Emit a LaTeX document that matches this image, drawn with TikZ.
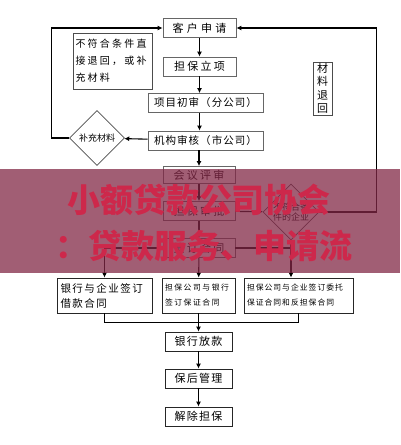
\documentclass[tikz,border=0pt]{standalone}
\usepackage{fontspec}
\setmainfont{Noto Sans CJK SC}
\usepackage{xcolor}
\usepackage{tikz}
\usetikzlibrary{shapes.geometric,arrows.meta}

\definecolor{bandred}{RGB}{130,40,70}
\definecolor{markred}{RGB}{205,40,75}
\newcommand{\spaced}[1]{\addfontfeature{LetterSpace=#1}}

\begin{document}
\begin{tikzpicture}[x=1pt, y=-1pt, >={Latex[length=5pt,width=5pt]},
    flow/.style={draw=black!60, line width=0.8pt, inner sep=0pt, minimum height=19pt, font=\fontsize{11}{13}\selectfont\spaced{20}},
    note/.style={draw=black!70, line width=0.7pt, inner sep=0pt, align=left, font=\fontsize{10}{17}\selectfont\spaced{22}},
    gate/.style={draw=black!70, line width=0.7pt, diamond, aspect=1, inner sep=0pt, minimum size=55pt, align=center, font=\fontsize{9}{10.5}\selectfont},
    deal/.style={draw=black!85, line width=0.8pt, inner sep=3pt, minimum height=35pt, align=left, font=\fontsize{7.8}{15}\selectfont\spaced{18}},
    stage/.style={draw=black!85, line width=0.8pt, inner sep=0pt, minimum width=67pt, minimum height=19pt, font=\fontsize{11}{13}\selectfont\spaced{12}},
    link/.style={line width=1.1pt},
    banner/.style={text=markred, font=\fontsize{33}{33}\selectfont\bfseries}]
    \useasboundingbox (0,0) rectangle (400,445);

    % Main flow, top part
    \node[flow, minimum width=73pt, font=\fontsize{11}{13}\selectfont\spaced{30}] (apply) at (199.5,28) {客户申请};
    \node[flow, minimum width=73pt] (setup) at (199.5,66.5) {担保立项};
    \node[flow, minimum width=115pt, font=\fontsize{10.5}{13}\selectfont\spaced{10}] (first) at (205.5,103) {项目初审（分公司）};
    \node[flow, minimum width=115pt, font=\fontsize{10.5}{13}\selectfont\spaced{10}] (check) at (205.5,140.5) {机构审核（市公司）};
    \node[flow, minimum width=72pt, minimum height=17pt] (meet) at (199,175) {会议评审};
    \node[flow, minimum width=72pt] (audit) at (199,211) {担保审批};
    \node[flow, minimum width=72pt] (sign) at (199,248) {签订合同};

    % Side notes and decisions
    \node[note, minimum width=79pt, minimum height=56pt, text width=74pt] (rule) at (112.5,61) {不符合条件直\\接退回，或补\\充材料};
    \node[note, minimum width=19pt, minimum height=53pt, align=center, font=\fontsize{11}{13.5}\selectfont] (back) at (322.5,88.5) {材\\料\\退\\回};
    \node[gate] (more) at (97,138) {补充材料};
    \node[gate, minimum size=56pt] (reject) at (291,212) {不符合条\\件的企业};

    % Contracts
    \node[deal, minimum width=95pt, font=\fontsize{10.5}{15}\selectfont\spaced{14}, text width=88pt] (loan) at (104.5,295.5) {银行与企业签订\\借款合同};
    \node[deal, minimum width=73pt, font=\fontsize{7.8}{15}\selectfont\spaced{20}, text width=67pt] (bankdeal) at (198.5,295.5) {担保公司与银行\\签订保证合同};
    \node[deal, minimum width=109pt, font=\fontsize{7.8}{15}\selectfont\spaced{13}, text width=103pt] (firmdeal) at (298.5,295.5) {担保公司与企业签订委托\\保证合同和反担保合同};

    % Main flow, bottom part
    \node[stage] (pay) at (198.5,341.5) {银行放款};
    \node[stage] (after) at (198.5,378.5) {保后管理};
    \node[stage] (free) at (198.5,416.5) {解除担保};

    % Connections
    \draw[->, link] (apply) -- (setup);
    \draw[->, link] (setup) -- (setup |- first.north);
    \draw[->, link] (first.south -| setup) -- (check.north -| setup);
    \draw[->, link] (check.south -| meet) -- (meet);
    \draw[->, link] (meet) -- (audit);
    \draw[->, link] (audit) -- (sign);
    \draw[->, link] (check) -- (more);
    \draw[->, link] (more.west) -- ++(-18,0) |- (apply.west);
    \draw[->, link] (reject.east) -- ++(57,0) |- (apply.east);
    \draw[->, link] (audit) -- (reject);
    \draw[->, link] (sign.west) -| (loan.north);
    \draw[->, link] (sign) -- (bankdeal);
    \draw[link] (sign.east) -- (sign.east -| reject.south);
    \draw[->, link] (reject.south) -- (reject.south |- firmdeal.north);
    \draw[link] (loan.south) -- ++(0,9) -| (firmdeal.south);
    \draw[->, link] (bankdeal) -- (pay);
    \draw[->, link] (pay) -- (after);
    \draw[->, link] (after) -- (free);

    % Overlay band
    \fill[bandred, opacity=0.75] (0,169) rectangle (400,273);
    \node[banner] (title) at (199,200) {小额贷款公司协会};
    \node[banner] (subtitle) at (204,246) {：贷款服务、申请流};
\end{tikzpicture}
\end{document}
